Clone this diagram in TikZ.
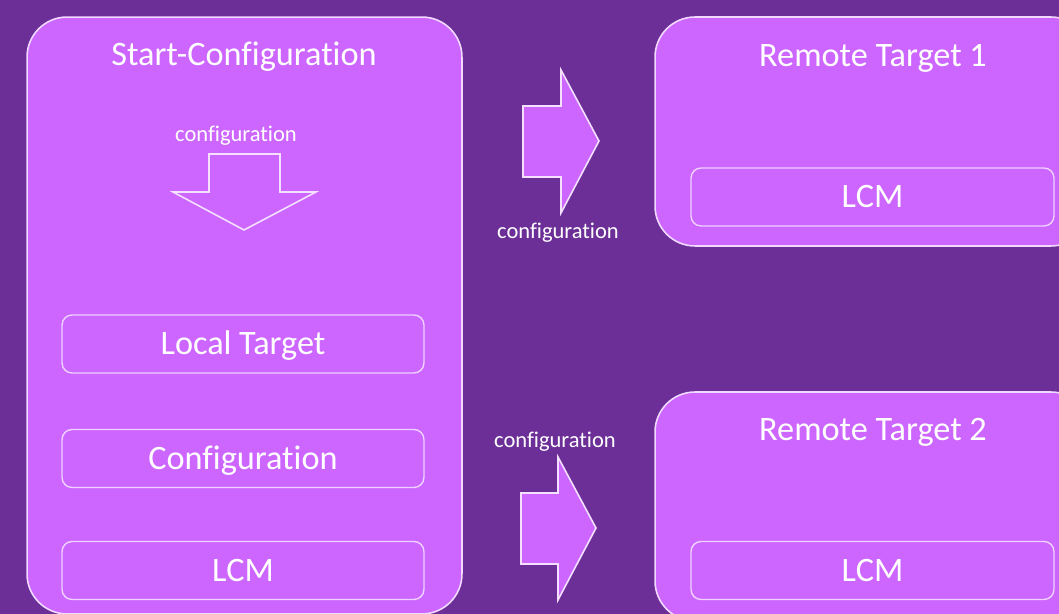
\documentclass[tikz,border=0pt]{standalone}
\usepackage{fontspec}
\setmainfont{Carlito}[Ligatures=NoCommon]
\usepackage{tikz}
\usetikzlibrary{positioning}
\definecolor{bgpurple}{HTML}{6C2F97}
\definecolor{boxpurple}{HTML}{CC66FF}
\tikzset{
  bigbox/.style={rectangle, draw=white!75!boxpurple, fill=boxpurple, line width=0.9pt, rounded corners=0.8cm},
  innerbox/.style={rectangle, draw=white!70!boxpurple, fill=boxpurple, line width=0.8pt, rounded corners=0.2cm,
                   minimum width=7.24cm, minimum height=1.16cm, text height=12.2pt, text depth=0pt,
                   font=\fontsize{19.5}{22}\selectfont, text=white},
  boxtitle/.style={font=\fontsize{19.5}{22}\selectfont, text=white},
  flowlabel/.style={font=\fontsize{12.8}{15}\selectfont, text=white},
  hollowarrow/.style={draw=white!80!boxpurple, line width=0.9pt},
  solidarrow/.style={draw=white!80!boxpurple, fill=boxpurple, line width=0.9pt},
}

\begin{document}
\begin{tikzpicture}[x=0.02cm, y=-0.02cm]
  \useasboundingbox (0,0) rectangle (1059,614);
  \fill[bgpurple] (0,0) rectangle (1059,614);
  \clip (0,0) rectangle (1059,614);

  % left column
  \node[bigbox, minimum width=8.7cm, minimum height=11.94cm] (start) at (244.5,315.5) {};
  \node[boxtitle] (starttitle) at (244,57) {Start-Configuration};
  \node[flowlabel] (startlabel) at (236,136) {configuration};
  \draw[hollowarrow] (209,154) -- (280,154) -- (280,192) -- (316,192) -- (244,230) -- (173,192) -- (209,192) -- cycle;
  \node[innerbox] (localtarget) at (243,344) {Local Target};
  \node[innerbox] (config) at (243,458.5) {Configuration};
  \node[innerbox] (startlcm) at (243,570.5) {LCM};

  % remote targets
  \node[bigbox, minimum width=8.72cm, minimum height=4.58cm] (remote1) at (873,131.5) {};
  \node[boxtitle] (remote1title) at (873,58) {Remote Target 1};
  \node[innerbox, minimum width=7.26cm] (remote1lcm) at (872.5,197) {LCM};

  \node[bigbox, minimum width=8.72cm, minimum height=4.58cm] (remote2) at (873,506.5) {};
  \node[boxtitle] (remote2title) at (873,432) {Remote Target 2};
  \node[innerbox, minimum width=7.26cm] (remote2lcm) at (872.5,570.5) {LCM};

  % transfer arrows
  \draw[solidarrow] (523,106) -- (561,106) -- (561,70) -- (599,141) -- (561,213) -- (561,177) -- (523,177) -- cycle;
  \node[flowlabel] (label1) at (558,233) {configuration};
  \draw[solidarrow] (521,493) -- (558,493) -- (558,457) -- (596,528) -- (558,600) -- (558,564) -- (521,564) -- cycle;
  \node[flowlabel] (label2) at (555,442) {configuration};
\end{tikzpicture}
\end{document}
